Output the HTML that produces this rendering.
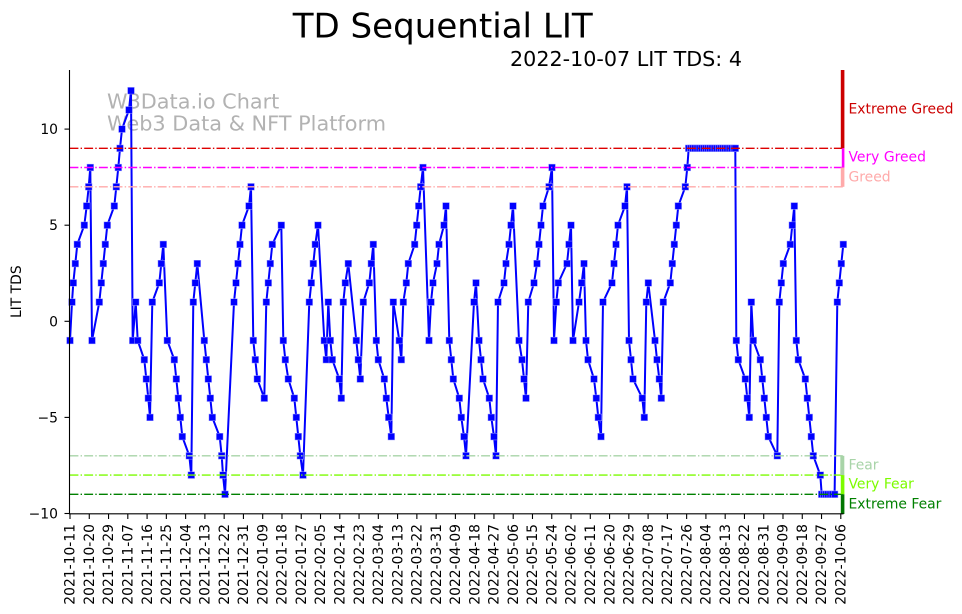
<!DOCTYPE html>
<html>
<head>
<meta charset="utf-8">
<style>
html,body{margin:0;padding:0;background:#fff;}
svg{display:block;}
text{font-family:"DejaVu Sans","Liberation Sans",sans-serif;}
</style>
</head>
<body>
<svg width="962" height="614" viewBox="0 0 962 614" xmlns="http://www.w3.org/2000/svg">
<defs>
<marker id="sq" markerUnits="userSpaceOnUse" markerWidth="10" markerHeight="10" refX="5" refY="5" overflow="visible">
<rect x="1.4" y="1.4" width="7.2" height="7.2" fill="#9a9aff"/>
<rect x="1.9" y="1.9" width="6.2" height="6.2" fill="#0000ff"/>
</marker>
</defs>
<rect width="962" height="614" fill="#fff"/>

<!-- title -->
<text x="292.7" y="37.3" font-size="34" textLength="300" lengthAdjust="spacingAndGlyphs" fill="#000">TD Sequential LIT</text>
<text x="510" y="65.8" font-size="20.8" textLength="232" lengthAdjust="spacingAndGlyphs" fill="#000">2022-10-07 LIT TDS: 4</text>

<!-- watermark -->
<text x="107" y="108.5" font-size="20.8" fill="#b2b2b2">W3Data.io Chart</text>
<text x="107" y="130.7" font-size="20.8" textLength="279" lengthAdjust="spacingAndGlyphs" fill="#b2b2b2">Web3 Data &amp; NFT Platform</text>

<!-- data series -->
<polyline fill="none" stroke="#0000ff" stroke-width="2" stroke-linejoin="round" marker-start="url(#sq)" marker-mid="url(#sq)" marker-end="url(#sq)" points="
70,340.5 72,302.1 73.3,282.9 75.3,263.6 77.3,244.4 84.3,225.2 86.7,206 88.7,186.8 90.3,167.5 92,340.5
99.3,302.1 101.3,282.9 103.3,263.6 105.3,244.4 107.3,225.2 114.3,206 116.3,186.8 118.3,167.5 120,148.3 122,129.1
129,109.9 131,90.7 132.7,340.5 135.7,302.1 137.7,340.5 144.3,359.7 146.3,379 148.3,398.2 150,417.4 152.3,302.1
159.3,282.9 161.3,263.6 163.3,244.4 167.3,340.5 174.3,359.7 176.3,379 178.3,398.2 180.3,417.4 182.3,436.6 189.3,455.8
191.3,475.1 193.3,302.1 195.3,282.9 197.3,263.6 204.3,340.5 206.3,359.7 208.3,379 210.3,398.2 212.3,417.4 219.7,436.6
221.7,455.8 223,475.1 225,494.3 234,302.1 236,282.9 238,263.6 240,244.4 242,225.2 249,206 251,186.8
253.3,340.5 255.3,359.7 257.3,379 264.3,398.2 266.3,302.1 268.3,282.9 270.3,263.6 272.3,244.4 281.3,225.2 283.3,340.5
285.3,359.7 288.3,379 294.3,398.2 296.3,417.4 298.3,436.6 300.3,455.8 303,475.1 309.3,302.1 311.3,282.9 313.3,263.6
315.3,244.4 318,225.2 324.3,340.5 326.3,359.7 328.3,302.1 330.3,340.5 332.3,359.7 339.3,379 341.3,398.2 343.3,302.1
345.3,282.9 348.3,263.6 356.3,340.5 358.3,359.7 360.3,379 363.3,302.1 369.3,282.9 371.3,263.6 373.3,244.4 376.3,340.5
378.3,359.7 384.3,379 386.3,398.2 388.7,417.4 391.3,436.6 393.3,302.1 399.3,340.5 401.3,359.7 403.3,302.1 406.3,282.9
408.3,263.6 414.7,244.4 416.7,225.2 418.7,206 420.7,186.8 423,167.5 429,340.5 431,302.1 433,282.9 437,263.6
439,244.4 444,225.2 446,206 449.3,340.5 451.3,359.7 453.3,379 459.3,398.2 461.3,417.4 464,436.6 466,455.8
474,302.1 476,282.9 479,340.5 481,359.7 483,379 489.3,398.2 491.3,417.4 494,436.6 496,455.8 498,302.1
504,282.9 506,263.6 509,244.4 511,225.2 513,206 519,340.5 522,359.7 524,379 526,398.2 528.3,302.1
534,282.9 537,263.6 539,244.4 541,225.2 543,206 549,186.8 552,167.5 554,340.5 556.3,302.1 558.3,282.9
567,263.6 569,244.4 571,225.2 573,340.5 579,302.1 581.7,282.9 584,263.6 586,340.5 588,359.7 594,379
596.3,398.2 598.3,417.4 601,436.6 603,302.1 612,282.9 614,263.6 616,244.4 618,225.2 625,206 627,186.8
629,340.5 631,359.7 633,379 642.3,398.2 644.3,417.4 646.3,302.1 648.3,282.9 655,340.5 657,359.7 659.3,379
661.3,398.2 663.3,302.1 670.3,282.9 672.3,263.6 674.3,244.4 676.3,225.2 678.3,206 685.3,186.8 687.3,167.5
688.7,148.3 690.8,148.3 693,148.3 695.1,148.3 697.3,148.3 699.4,148.3 701.5,148.3 703.7,148.3 705.8,148.3 708,148.3
710.1,148.3 712.2,148.3 714.4,148.3 716.5,148.3 718.7,148.3 720.8,148.3 722.9,148.3 725.1,148.3 727.2,148.3 729.4,148.3
731.5,148.3 733.6,148.3 735.3,148.3
736.3,340.5 738.3,359.7 745.3,379 747.3,398.2 749.3,417.4 751.3,302.1 753.3,340.5 760.3,359.7 762.3,379 764.3,398.2
766.3,417.4 768.3,436.6 777.3,455.8 779.3,302.1 781.3,282.9 783.3,263.6 790.3,244.4 792.3,225.2 794.3,206 796.3,340.5
798.3,359.7 805.3,379 807.3,398.2 809.3,417.4 811.3,436.6 813.3,455.8 820.3,475.1
821.7,494.3 823.8,494.3 826,494.3 828.1,494.3 830.3,494.3 832.4,494.3 834.6,494.3
837.3,302.1 839.3,282.9 841.3,263.6 843.3,244.4"/>

<!-- horizontal level lines (dash-dot) -->
<g stroke-width="1.4" stroke-dasharray="8.9 2.2 1.4 2.2" fill="none">
<line x1="69.5" y1="148.3" x2="843" y2="148.3" stroke="#dd0000"/>
<line x1="69.5" y1="167.5" x2="843" y2="167.5" stroke="#ff00ff"/>
<line x1="69.5" y1="186.8" x2="843" y2="186.8" stroke="#ffaaaa"/>
<line x1="69.5" y1="455.8" x2="843" y2="455.8" stroke="#a8d4a8"/>
<line x1="69.5" y1="475.1" x2="843" y2="475.1" stroke="#7cfc00"/>
<line x1="69.5" y1="494.3" x2="843" y2="494.3" stroke="#008000"/>
</g>

<!-- right side zone bars -->
<rect x="840.8" y="70" width="3.6" height="78.3" fill="#cc0000"/>
<rect x="841.8" y="148.3" width="2.6" height="19.2" fill="#ff00ff"/>
<rect x="840.8" y="167.5" width="3.6" height="19.3" fill="#ffaaaa"/>
<rect x="840.3" y="455.8" width="4" height="19.3" fill="#a8d4a8"/>
<rect x="840.8" y="475.1" width="3.6" height="19.2" fill="#7cfc00"/>
<rect x="840.8" y="494.3" width="3.6" height="19.7" fill="#007700"/>

<!-- zone labels -->
<text x="848.5" y="113.3" font-size="13.9" fill="#cc0000">Extreme Greed</text>
<text x="848.5" y="161.7" font-size="13.9" fill="#ff00ff">Very Greed</text>
<text x="848.5" y="181.6" font-size="13.9" fill="#ffaaaa">Greed</text>
<text x="848.5" y="469.3" font-size="13.9" fill="#a8d4a8">Fear</text>
<text x="848.5" y="488.5" font-size="13.9" fill="#7cfc00">Very Fear</text>
<text x="848.5" y="508.3" font-size="13.9" fill="#008000">Extreme Fear</text>

<!-- axes spines -->
<line x1="69.5" y1="70" x2="69.5" y2="514" stroke="#000" stroke-width="1.1"/>
<line x1="69" y1="513.8" x2="843.5" y2="513.8" stroke="#000" stroke-width="1.1"/>

<!-- y ticks -->
<g stroke="#000" stroke-width="1.1">
<line x1="64.5" y1="129.1" x2="69.5" y2="129.1"/>
<line x1="64.5" y1="225.2" x2="69.5" y2="225.2"/>
<line x1="64.5" y1="321.3" x2="69.5" y2="321.3"/>
<line x1="64.5" y1="417.4" x2="69.5" y2="417.4"/>
<line x1="64.5" y1="513.5" x2="69.5" y2="513.5"/>
</g>
<g font-size="13.9" fill="#000" text-anchor="end">
<text x="58" y="134.1">10</text>
<text x="58" y="230.2">5</text>
<text x="58" y="326.3">0</text>
<text x="58" y="422.4">−5</text>
<text x="58" y="518.5">−10</text>
</g>
<text transform="translate(21,291.7) rotate(-90)" font-size="13.9" text-anchor="middle" fill="#000">LIT TDS</text>

<!-- x ticks -->
<g stroke="#000" stroke-width="1.1">
<line x1="70" y1="514" x2="70" y2="519"/><line x1="89.27" y1="514" x2="89.27" y2="519"/><line x1="108.54" y1="514" x2="108.54" y2="519"/><line x1="127.81" y1="514" x2="127.81" y2="519"/><line x1="147.08" y1="514" x2="147.08" y2="519"/><line x1="166.35" y1="514" x2="166.35" y2="519"/><line x1="185.62" y1="514" x2="185.62" y2="519"/><line x1="204.89" y1="514" x2="204.89" y2="519"/><line x1="224.16" y1="514" x2="224.16" y2="519"/><line x1="243.43" y1="514" x2="243.43" y2="519"/>
<line x1="262.7" y1="514" x2="262.7" y2="519"/><line x1="281.97" y1="514" x2="281.97" y2="519"/><line x1="301.24" y1="514" x2="301.24" y2="519"/><line x1="320.51" y1="514" x2="320.51" y2="519"/><line x1="339.78" y1="514" x2="339.78" y2="519"/><line x1="359.05" y1="514" x2="359.05" y2="519"/><line x1="378.32" y1="514" x2="378.32" y2="519"/><line x1="397.59" y1="514" x2="397.59" y2="519"/><line x1="416.86" y1="514" x2="416.86" y2="519"/><line x1="436.13" y1="514" x2="436.13" y2="519"/>
<line x1="455.4" y1="514" x2="455.4" y2="519"/><line x1="474.67" y1="514" x2="474.67" y2="519"/><line x1="493.94" y1="514" x2="493.94" y2="519"/><line x1="513.21" y1="514" x2="513.21" y2="519"/><line x1="532.48" y1="514" x2="532.48" y2="519"/><line x1="551.75" y1="514" x2="551.75" y2="519"/><line x1="571.02" y1="514" x2="571.02" y2="519"/><line x1="590.29" y1="514" x2="590.29" y2="519"/><line x1="609.56" y1="514" x2="609.56" y2="519"/><line x1="628.83" y1="514" x2="628.83" y2="519"/>
<line x1="648.1" y1="514" x2="648.1" y2="519"/><line x1="667.37" y1="514" x2="667.37" y2="519"/><line x1="686.64" y1="514" x2="686.64" y2="519"/><line x1="705.91" y1="514" x2="705.91" y2="519"/><line x1="725.18" y1="514" x2="725.18" y2="519"/><line x1="744.45" y1="514" x2="744.45" y2="519"/><line x1="763.72" y1="514" x2="763.72" y2="519"/><line x1="782.99" y1="514" x2="782.99" y2="519"/><line x1="802.26" y1="514" x2="802.26" y2="519"/><line x1="821.53" y1="514" x2="821.53" y2="519"/>
<line x1="840.8" y1="514" x2="840.8" y2="519"/>
</g>
<g font-size="13.9" fill="#000" text-anchor="end">
<text transform="translate(74.7,524) rotate(-90)">2021-10-11</text>
<text transform="translate(93.97,524) rotate(-90)">2021-10-20</text>
<text transform="translate(113.24,524) rotate(-90)">2021-10-29</text>
<text transform="translate(132.51,524) rotate(-90)">2021-11-07</text>
<text transform="translate(151.78,524) rotate(-90)">2021-11-16</text>
<text transform="translate(171.05,524) rotate(-90)">2021-11-25</text>
<text transform="translate(190.32,524) rotate(-90)">2021-12-04</text>
<text transform="translate(209.59,524) rotate(-90)">2021-12-13</text>
<text transform="translate(228.86,524) rotate(-90)">2021-12-22</text>
<text transform="translate(248.13,524) rotate(-90)">2021-12-31</text>
<text transform="translate(267.4,524) rotate(-90)">2022-01-09</text>
<text transform="translate(286.67,524) rotate(-90)">2022-01-18</text>
<text transform="translate(305.94,524) rotate(-90)">2022-01-27</text>
<text transform="translate(325.21,524) rotate(-90)">2022-02-05</text>
<text transform="translate(344.48,524) rotate(-90)">2022-02-14</text>
<text transform="translate(363.75,524) rotate(-90)">2022-02-23</text>
<text transform="translate(383.02,524) rotate(-90)">2022-03-04</text>
<text transform="translate(402.29,524) rotate(-90)">2022-03-13</text>
<text transform="translate(421.56,524) rotate(-90)">2022-03-22</text>
<text transform="translate(440.83,524) rotate(-90)">2022-03-31</text>
<text transform="translate(460.1,524) rotate(-90)">2022-04-09</text>
<text transform="translate(479.37,524) rotate(-90)">2022-04-18</text>
<text transform="translate(498.64,524) rotate(-90)">2022-04-27</text>
<text transform="translate(517.91,524) rotate(-90)">2022-05-06</text>
<text transform="translate(537.18,524) rotate(-90)">2022-05-15</text>
<text transform="translate(556.45,524) rotate(-90)">2022-05-24</text>
<text transform="translate(575.72,524) rotate(-90)">2022-06-02</text>
<text transform="translate(594.99,524) rotate(-90)">2022-06-11</text>
<text transform="translate(614.26,524) rotate(-90)">2022-06-20</text>
<text transform="translate(633.53,524) rotate(-90)">2022-06-29</text>
<text transform="translate(652.8,524) rotate(-90)">2022-07-08</text>
<text transform="translate(672.07,524) rotate(-90)">2022-07-17</text>
<text transform="translate(691.34,524) rotate(-90)">2022-07-26</text>
<text transform="translate(710.61,524) rotate(-90)">2022-08-04</text>
<text transform="translate(729.88,524) rotate(-90)">2022-08-13</text>
<text transform="translate(749.15,524) rotate(-90)">2022-08-22</text>
<text transform="translate(768.42,524) rotate(-90)">2022-08-31</text>
<text transform="translate(787.69,524) rotate(-90)">2022-09-09</text>
<text transform="translate(806.96,524) rotate(-90)">2022-09-18</text>
<text transform="translate(826.23,524) rotate(-90)">2022-09-27</text>
<text transform="translate(845.5,524) rotate(-90)">2022-10-06</text>
</g>
</svg>
</body>
</html>
